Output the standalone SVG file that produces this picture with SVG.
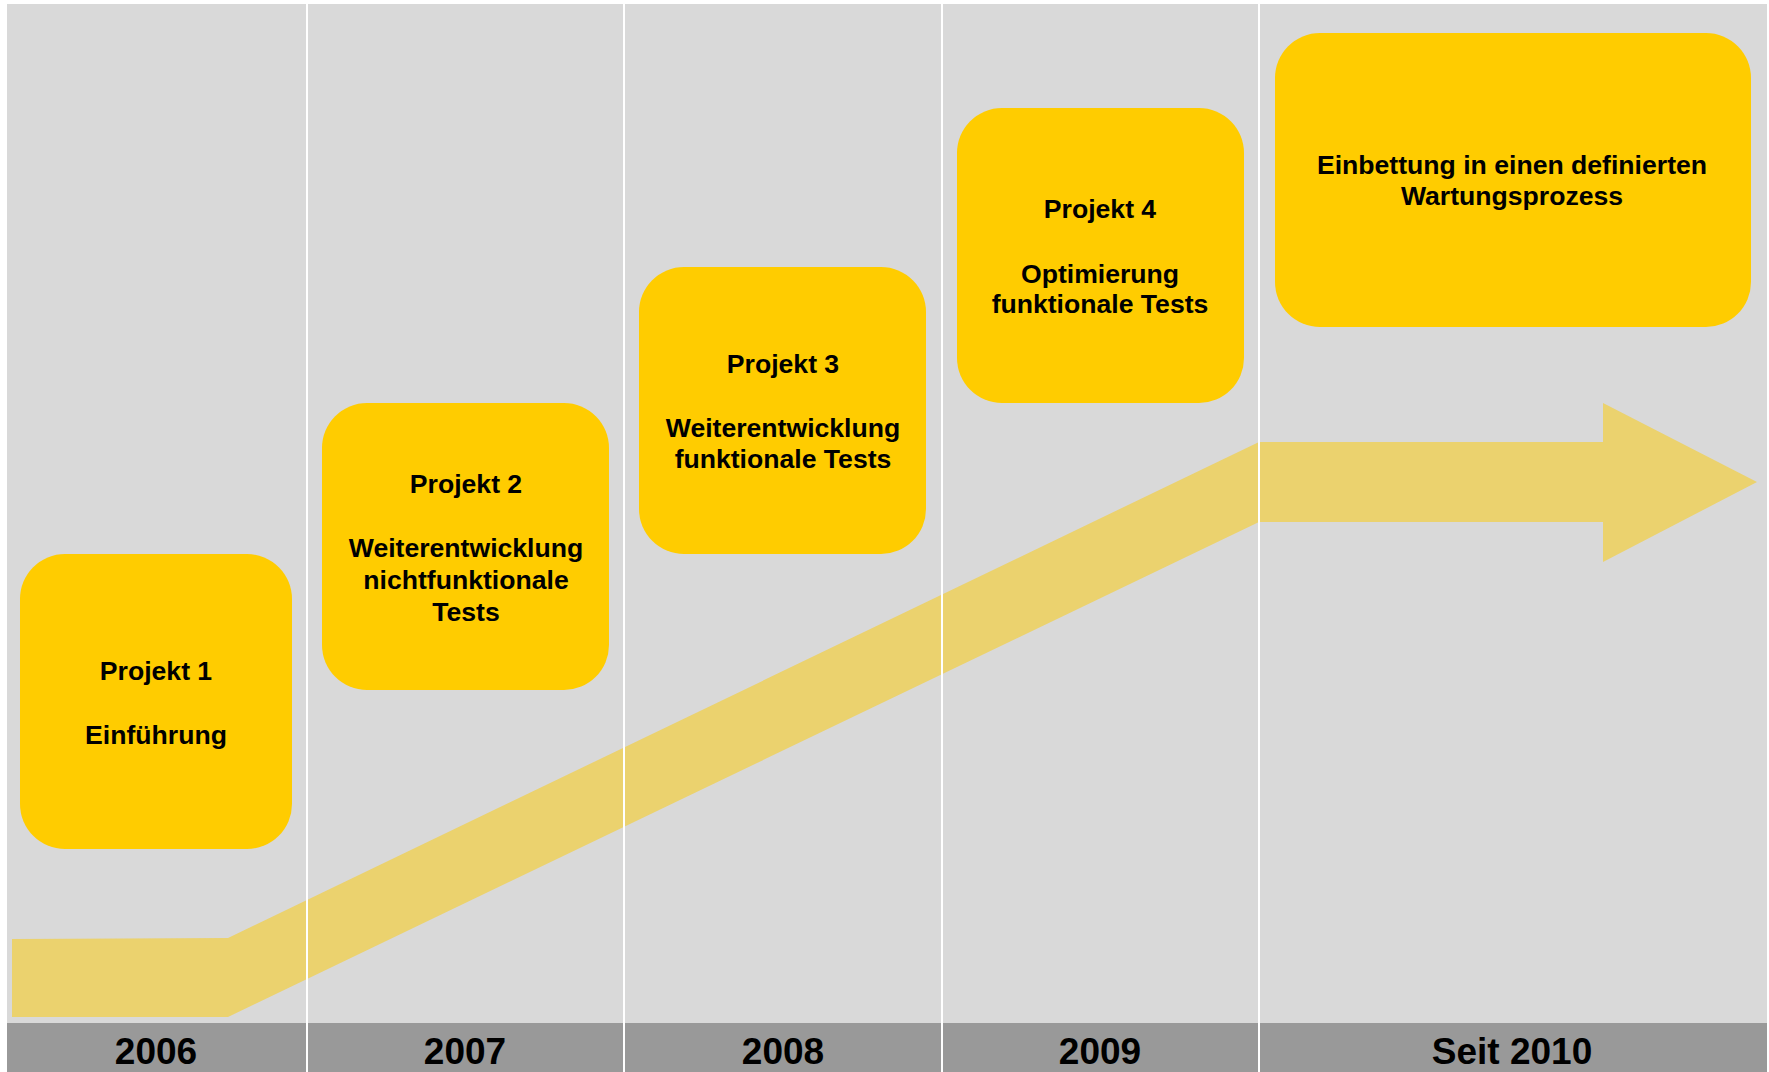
<svg xmlns="http://www.w3.org/2000/svg" width="1769" height="1072" viewBox="0 0 1769 1072">
<style>
.box{fill:#FFCC00;}
.t{font-family:"Liberation Sans",Arial,sans-serif;font-weight:bold;font-size:26.6px;fill:#000;text-anchor:middle;}
.y{font-family:"Liberation Sans",Arial,sans-serif;font-weight:bold;font-size:37px;fill:#000;text-anchor:middle;}
.sep{stroke:#FFFFFF;stroke-width:2;}
</style>
<rect x="0" y="0" width="1769" height="1072" fill="#FFFFFF"/>
<rect x="7" y="4" width="1760" height="1068" fill="#D9D9D9"/>
<g id="connectors">
<polygon points="12,939 228,938 1259,442 1603,442 1603,403 1757,482 1603,562 1603,522 1259,522 228,1017 12,1017" fill="#EBD26E"/>
</g>
<rect x="7" y="1023" width="1760" height="49" fill="#999999"/>
<g id="separators">
<line class="sep" x1="307" y1="4" x2="307" y2="1072"/>
<line class="sep" x1="624" y1="4" x2="624" y2="1072"/>
<line class="sep" x1="942" y1="4" x2="942" y2="1072"/>
<line class="sep" x1="1259" y1="4" x2="1259" y2="1072"/>
</g>
<g id="years">
<text class="y" x="156" y="1064">2006</text>
<text class="y" x="465" y="1064">2007</text>
<text class="y" x="783" y="1064">2008</text>
<text class="y" x="1100" y="1064">2009</text>
<text class="y" x="1512" y="1064">Seit 2010</text>
</g>
<g id="projekt1">
<rect class="box" x="20" y="554" width="272" height="295" rx="45" ry="45"/>
<text class="t" x="156" y="680">Projekt 1</text>
<text class="t" x="156" y="744">Einführung</text>
</g>
<g id="projekt2">
<rect class="box" x="322" y="403" width="287" height="287" rx="45" ry="45"/>
<text class="t" x="466" y="493">Projekt 2</text>
<text class="t" x="466" y="557">Weiterentwicklung</text>
<text class="t" x="466" y="589">nichtfunktionale</text>
<text class="t" x="466" y="621">Tests</text>
</g>
<g id="projekt3">
<rect class="box" x="639" y="267" width="287" height="287" rx="45" ry="45"/>
<text class="t" x="783" y="373">Projekt 3</text>
<text class="t" x="783" y="437">Weiterentwicklung</text>
<text class="t" x="783" y="468">funktionale Tests</text>
</g>
<g id="projekt4">
<rect class="box" x="957" y="108" width="287" height="295" rx="45" ry="45"/>
<text class="t" x="1100" y="218">Projekt 4</text>
<text class="t" x="1100" y="283">Optimierung</text>
<text class="t" x="1100" y="313">funktionale Tests</text>
</g>
<g id="wartung">
<rect class="box" x="1275" y="33" width="476" height="294" rx="45" ry="45"/>
<text class="t" x="1512" y="174">Einbettung in einen definierten</text>
<text class="t" x="1512" y="205">Wartungsprozess</text>
</g>
</svg>
